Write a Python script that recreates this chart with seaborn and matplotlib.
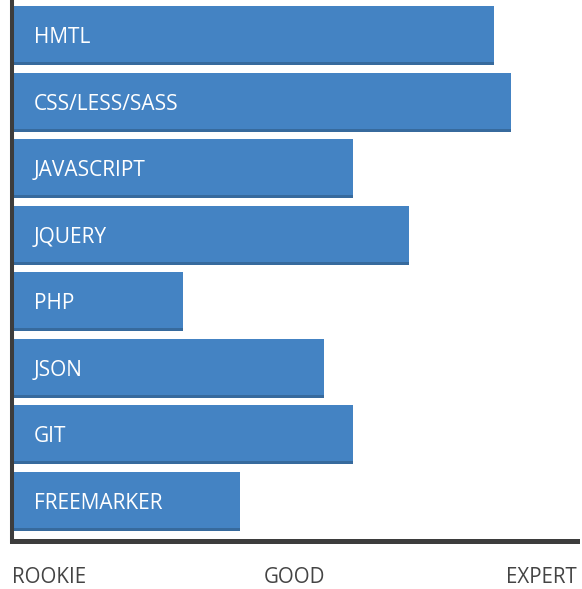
import pandas as pd
import matplotlib.pyplot as plt
import seaborn as sns
from matplotlib.patches import Rectangle

# =========================
# DATA
# =========================

skills = ["HMTL", "CSS/LESS/SASS", "JAVASCRIPT", "JQUERY",
          "PHP", "JSON", "GIT", "FREEMARKER"]
levels = [85.3, 88.3, 60.3, 70.3, 30.3, 55.3, 60.3, 40.3]

level_ticks = [0, 50, 100]
level_names = ["ROOKIE", "GOOD", "EXPERT"]

df = pd.DataFrame({"skill": skills, "level": levels})

# =========================
# PLOT
# =========================

sns.set_style("white")
plt.rcParams["font.family"] = ["Open Sans", "DejaVu Sans"]

fig = plt.figure(figsize=(5.82, 5.89), dpi=100)
ax = fig.add_axes([12 / 582, 1 - 540.5 / 589, 565 / 582, 540.5 / 589])

bar_color = "#4483c3"
edge_color = "#376a9d"

sns.barplot(
    data=df,
    x="level",
    y="skill",
    orient="h",
    color=bar_color,
    saturation=1,
    width=0.886,
    ax=ax
)

# darker strip along the bottom of every bar
strip = 0.045
for p in ax.patches:
    x0, y0 = p.get_x(), p.get_y()
    w, h = p.get_width(), p.get_height()
    p.set_edgecolor("none")
    ax.add_patch(Rectangle((x0, y0 + h - strip), w, strip,
                           facecolor=edge_color, edgecolor="none"))

# labels inside the bars
for i, name in enumerate(skills):
    ax.text(3.9, i + 0.03, name, color="white", fontsize=15,
            va="center", ha="left")

ax.set_yticks([])
ax.set_ylabel("")
ax.set_xlabel("")

ax.set_xticks(level_ticks)
ax.set_xticklabels(level_names, fontsize=14.8, color="#444444")
ax.tick_params(axis="x", length=0, pad=19)
tl = ax.get_xticklabels()
tl[0].set_horizontalalignment("left")
tl[-1].set_horizontalalignment("right")

ax.set_xlim(0, 100)
ax.set_ylim(7.586, -0.533)

for side in ["top", "right"]:
    ax.spines[side].set_visible(False)
ax.spines["left"].set_color("#3d3d3d")
ax.spines["left"].set_linewidth(2.9)
ax.spines["bottom"].set_color("#3d3d3d")
ax.spines["bottom"].set_linewidth(3.6)
ax.spines["left"].set_zorder(5)

fig.savefig("out.png", dpi=100)
